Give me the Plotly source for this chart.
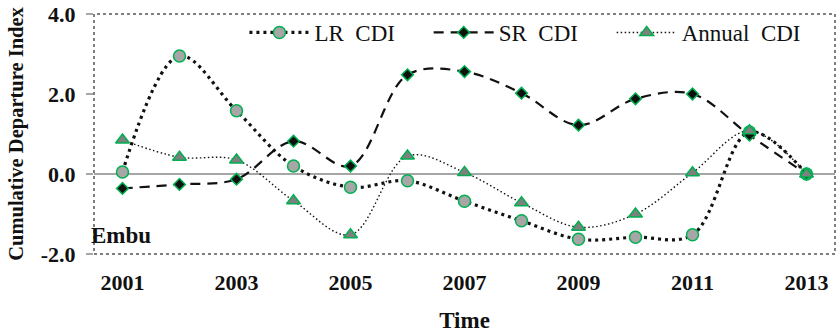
import plotly.graph_objects as go

years = list(range(2001, 2014))
lr_cdi = [0.05, 2.95, 1.58, 0.20, -0.33, -0.17, -0.68, -1.17, -1.63, -1.58, -1.52, 1.05, 0.0]
sr_cdi = [-0.36, -0.26, -0.13, 0.82, 0.20, 2.48, 2.56, 2.02, 1.22, 1.88, 2.00, 0.97, 0.0]
annual_cdi = [0.85, 0.42, 0.35, -0.67, -1.52, 0.45, 0.04, -0.72, -1.33, -1.00, 0.03, 1.08, 0.0]

x_tick_vals = [2001, 2003, 2005, 2007, 2009, 2011, 2013]
x_tick_text = ["2001", "2003", "2005", "2007", "2009", "2011", "2013"]
y_tick_vals = [-2.0, 0.0, 2.0, 4.0]
y_tick_text = ["-2.0", "0.0", "2.0", "4.0"]
minor_tick_vals = [y + 0.5 for y in range(2000, 2014)]

FONT = "'Liberation Serif', 'Times New Roman', Times, serif"
GREEN = "#00B050"
TRAIL = "\u00a0" * 5

fig = go.Figure()
fig.add_trace(go.Scatter(
    x=years, y=lr_cdi, name="LR\u00a0\u00a0CDI" + TRAIL, mode="lines+markers",
    line=dict(color="#111111", width=3.2, dash="3px,4px", shape="spline", smoothing=1),
    marker=dict(symbol="circle", size=12, color="#A6A6A6", line=dict(color=GREEN, width=1.5)),
))
fig.add_trace(go.Scatter(
    x=years, y=sr_cdi, name="SR\u00a0\u00a0CDI" + TRAIL, mode="lines+markers",
    line=dict(color="#111111", width=2.2, dash="10px,7px", shape="spline", smoothing=1),
    marker=dict(symbol="diamond", size=9, color="#111111", line=dict(color=GREEN, width=1.5)),
))
fig.add_trace(go.Scatter(
    x=years, y=annual_cdi, name="Annual\u00a0\u00a0CDI", mode="lines+markers",
    line=dict(color="#111111", width=1.4, dash="1.5px,2.5px", shape="spline", smoothing=1),
    marker=dict(symbol="triangle-up", size=12, color="#7F7F7F", line=dict(color=GREEN, width=1.5)),
))

fig.update_layout(
    width=838, height=333,
    margin=dict(l=94, r=3, t=14, b=79, autoexpand=False),
    paper_bgcolor="white", plot_bgcolor="white",
    font=dict(family=FONT, color="#111111"),
    showlegend=True,
    legend=dict(
        orientation="h", x=0.203, y=0.923, xanchor="left", yanchor="middle",
        bgcolor="rgba(0,0,0,0)", font=dict(family=FONT, size=23, color="#111111"),
        itemwidth=60,
    ),
    xaxis=dict(
        range=[2000.5, 2013.5], tickvals=x_tick_vals, ticktext=x_tick_text,
        ticks="outside", ticklen=9, tickcolor="rgba(0,0,0,0)", automargin=False,
        tickfont=dict(family=FONT, size=22, color="#111111", weight=700),
        showgrid=False, zeroline=False, showline=False,
        title=dict(text="Time", font=dict(family=FONT, size=23, color="#111111", weight=700), standoff=17),
    ),
    xaxis2=dict(
        range=[2000.5, 2013.5], overlaying="x", anchor="free", position=1/3, side="bottom",
        tickvals=minor_tick_vals, ticks="outside", ticklen=7, tickwidth=1.5, tickcolor="#A6A6A6",
        showticklabels=False, showgrid=False, zeroline=False, showline=False, automargin=False,
    ),
    yaxis=dict(
        range=[-2, 4], tickvals=y_tick_vals, ticktext=y_tick_text,
        ticks="outside", ticklen=7, tickwidth=1.5, tickcolor="#A6A6A6",
        ticklabelstandoff=6, automargin=False, ticklabeloverflow="allow",
        tickfont=dict(family=FONT, size=22, color="#111111", weight=700),
        showgrid=False, zeroline=True, zerolinecolor="#A6A6A6", zerolinewidth=2,
        showline=False,
        title=dict(text="Cumulative Departure Index", font=dict(family=FONT, size=20.5, color="#111111", weight=700), standoff=11),
    ),
    shapes=[
        dict(type="rect", xref="paper", yref="paper", x0=0, x1=1, y0=0, y1=1,
             line=dict(color="#555555", width=1.5, dash="dot"), layer="below"),
    ],
    annotations=[
        dict(text="Embu", xref="paper", yref="paper", x=-0.007, y=0.079,
             xanchor="left", yanchor="middle", showarrow=False,
             font=dict(family=FONT, size=23, color="#111111", weight=700)),
    ],
)

fig.write_html("out.html", config={"displayModeBar": False},
               post_script="document.body.style.margin='0';")
